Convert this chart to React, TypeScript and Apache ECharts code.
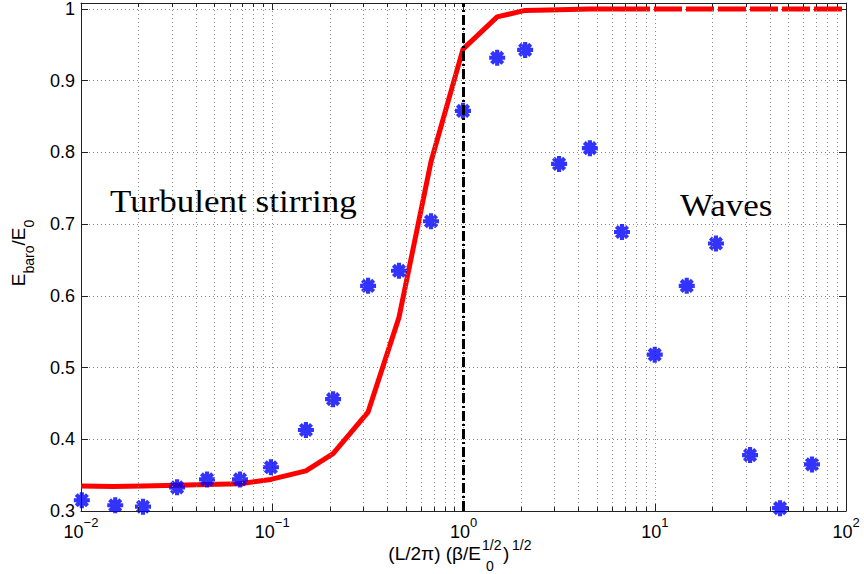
import React, { useEffect, useRef } from 'react';
import * as echarts from 'echarts';

// ---- data ----
const starX = [0.0101, 0.0151, 0.0211, 0.0318, 0.0456, 0.0678, 0.0984, 0.150, 0.208, 0.317, 0.460, 0.676, 0.994, 1.50, 2.10, 3.16, 4.58, 6.74, 10.0, 14.7, 20.9, 31.5, 45.2, 66.4];
const starY = [0.315, 0.308, 0.306, 0.333, 0.344, 0.344, 0.361, 0.413, 0.456, 0.614, 0.635, 0.704, 0.858, 0.932, 0.943, 0.784, 0.806, 0.689, 0.518, 0.614, 0.673, 0.378, 0.304, 0.365];

const lineX = [0.01, 0.0147, 0.0211, 0.0318, 0.0456, 0.0678, 0.0984, 0.150, 0.208, 0.317, 0.460, 0.676, 0.994, 1.50, 2.10, 3.16, 4.58, 6.74, 10.0, 14.7, 20.9, 31.5, 45.2, 66.4, 100];
const lineY = [0.335, 0.334, 0.335, 0.336, 0.337, 0.338, 0.344, 0.356, 0.380, 0.438, 0.570, 0.787, 0.944, 0.989, 0.998, 0.999, 1.0, 1.0, 1.0, 1.0, 1.0, 1.0, 1.0, 1.0, 1.0];
const dashedFrom = 17; // index where the curve becomes dashed

const xTickValues = [0.01, 0.1, 1, 10, 100];
const xTickExponents = ['\u22122', '\u22121', '0', '1', '2'];
const yTickLabels = ['0.3', '0.4', '0.5', '0.6', '0.7', '0.8', '0.9', '1'];
const decades = [0.01, 0.1, 1, 10];
const minorMultipliers = [2, 3, 4, 5, 6, 7, 8, 9];
const transitionX = 1;

const Y_MIN = 0.3;
const Y_MAX = 1.0083;

const STAR_PATH =
  'path://M37 0L63 0L63 100L37 100Z M0 37L100 37L100 63L0 63Z ' +
  'M24.2 5.8L94.2 75.8L75.8 94.2L5.8 24.2Z M75.8 5.8L94.2 24.2L24.2 94.2L5.8 75.8Z';

export default function App() {
  const ref = useRef<HTMLDivElement>(null);

  useEffect(() => {
    const chart = echarts.init(ref.current!, null, { renderer: 'svg' });

    const minorX: number[] = [];
    decades.forEach((d) => minorMultipliers.forEach((k) => minorX.push(+(d * k).toPrecision(4))));
    const tickLen = 4 / 720;

    const gridStyle = { color: '#8a8a8a', width: 1, type: [1, 3] as number[] };
    const font = 'Liberation Sans';

    const curve = lineX.map((x, i) => [x, lineY[i]]);
    const solidPart = curve.slice(0, dashedFrom + 1);
    const dashedPart = curve.slice(dashedFrom);

    const option: any = {
      animation: false,
      backgroundColor: '#ffffff',
      grid: { left: 81, right: 18, top: 1, bottom: 63, containLabel: false },
      xAxis: [
        {
          type: 'log',
          logBase: 10,
          min: 0.01,
          max: 100,
          position: 'bottom',
          axisLine: { show: true, lineStyle: { color: '#222', width: 1 } },
          axisTick: { show: true, inside: true, length: 7, lineStyle: { color: '#222' } },
          minorTick: { show: false },
          splitLine: { show: true, lineStyle: gridStyle },
          axisLabel: {
            margin: 5,
            color: '#000',
            formatter: (v: number) => {
              const i = xTickValues.findIndex((t) => Math.abs(Math.log10(t) - Math.log10(v)) < 1e-6);
              return i < 0 ? '' : '{b|10}{s|' + xTickExponents[i] + '}';
            },
            rich: {
              b: { fontSize: 18, fontFamily: font, color: '#000', lineHeight: 25, verticalAlign: 'bottom' },
              s: { fontSize: 13, fontFamily: font, color: '#000', lineHeight: 13, verticalAlign: 'top' },
            },
          },
        },
        {
          type: 'log',
          logBase: 10,
          min: 0.01,
          max: 100,
          position: 'top',
          axisLine: { show: true, lineStyle: { color: '#222', width: 1 } },
          axisTick: { show: true, inside: true, length: 7, lineStyle: { color: '#222' } },
          axisLabel: { show: false },
          splitLine: { show: false },
        },
      ],
      yAxis: [
        {
          type: 'value',
          min: Y_MIN,
          max: Y_MAX,
          interval: 0.1,
          position: 'left',
          axisLine: { show: true, lineStyle: { color: '#222', width: 1 } },
          axisTick: { show: true, inside: true, length: 7, lineStyle: { color: '#222' } },
          splitLine: { show: true, lineStyle: gridStyle },
          axisLabel: {
            margin: 6,
            fontSize: 18,
            lineHeight: 12,
            fontFamily: font,
            color: '#000',
            formatter: (v: number) => {
              const s = yTickLabels.find((l) => Math.abs(parseFloat(l) - v) < 1e-6);
              return s ?? '';
            },
          },
        },
        {
          type: 'value',
          min: Y_MIN,
          max: Y_MAX,
          interval: 0.1,
          position: 'right',
          axisLine: { show: true, lineStyle: { color: '#222', width: 1 } },
          axisTick: { show: true, inside: true, length: 7, lineStyle: { color: '#222' } },
          splitLine: { show: false },
          axisLabel: { show: false },
        },
      ],
      series: [
        {
          // minor grid + minor ticks
          type: 'line',
          z: 1,
          silent: true,
          data: [[0.01, Y_MIN]],
          symbol: 'none',
          lineStyle: { opacity: 0 },
          markLine: {
            silent: true,
            symbol: ['none', 'none'],
            label: { show: false },
            emphasis: { disabled: true },
            data: [
              ...minorX.map((v) => ({ xAxis: v, lineStyle: gridStyle })),
              ...minorX.map((v) => [
                { coord: [v, Y_MIN], lineStyle: { color: '#222', width: 1, type: 'solid' } },
                { coord: [v, Y_MIN + tickLen] },
              ]),
              ...minorX.map((v) => [
                { coord: [v, Y_MAX], lineStyle: { color: '#222', width: 1, type: 'solid' } },
                { coord: [v, Y_MAX - tickLen] },
              ]),
            ],
          },
        },
        {
          // transition marker
          type: 'line',
          z: 2,
          silent: true,
          data: [[0.01, Y_MIN]],
          symbol: 'none',
          lineStyle: { opacity: 0 },
          markLine: {
            silent: true,
            symbol: ['none', 'none'],
            label: { show: false },
            emphasis: { disabled: true },
            lineStyle: { color: '#000', width: 3, type: [10, 3, 2, 3] },
            data: [{ xAxis: transitionX }],
          },
        },
        {
          type: 'line',
          z: 3,
          data: solidPart,
          symbol: 'none',
          lineStyle: { color: '#ff0000', width: 5, join: 'round' },
        },
        {
          type: 'line',
          z: 3,
          data: dashedPart,
          symbol: 'none',
          lineStyle: { color: '#ff0000', width: 5, type: [28, 4] },
        },
        {
          type: 'scatter',
          z: 4,
          data: starX.map((x, i) => [x, starY[i]]),
          symbol: STAR_PATH,
          symbolSize: 16,
          itemStyle: { color: '#0000ff' },
        },
      ],
      graphic: [
        {
          type: 'text',
          x: 110,
          y: 202,
          scaleX: 1.13,
          silent: true,
          style: { text: 'Turbulent stirring', fontSize: 31, fontFamily: 'Liberation Serif', fill: '#000', align: 'left', verticalAlign: 'middle' },
        },
        {
          type: 'text',
          x: 680,
          y: 206,
          scaleX: 1.13,
          silent: true,
          style: { text: 'Waves', fontSize: 31, fontFamily: 'Liberation Serif', fill: '#000', align: 'left', verticalAlign: 'middle' },
        },
        {
          type: 'text',
          x: 9,
          y: 253,
          rotation: Math.PI / 2,
          silent: true,
          style: {
            text: '{m|E}{s|baro}{m|/E}{s|0}',
            align: 'center',
            verticalAlign: 'top',
            rich: {
              m: { fontSize: 19, fontFamily: font, fill: '#000', lineHeight: 22, verticalAlign: 'top' },
              s: { fontSize: 14, fontFamily: font, fill: '#000', lineHeight: 27, verticalAlign: 'bottom' },
            },
          },
        },
        { type: 'text', x: 481, y: 553, silent: true, style: { text: '(L/2\u03c0) (\u03b2/E', fontSize: 19, lineHeight: 14, fontFamily: font, fill: '#000', align: 'right', verticalAlign: 'middle' } },
        { type: 'text', x: 482, y: 545, silent: true, style: { text: '1/2', fontSize: 14, lineHeight: 12, fontFamily: font, fill: '#000', align: 'left', verticalAlign: 'middle' } },
        { type: 'text', x: 486, y: 566, silent: true, style: { text: '0', fontSize: 14, lineHeight: 12, fontFamily: font, fill: '#000', align: 'left', verticalAlign: 'middle' } },
        { type: 'text', x: 503, y: 553, silent: true, style: { text: ')', fontSize: 19, lineHeight: 14, fontFamily: font, fill: '#000', align: 'left', verticalAlign: 'middle' } },
        { type: 'text', x: 512, y: 545, silent: true, style: { text: '1/2', fontSize: 14, lineHeight: 12, fontFamily: font, fill: '#000', align: 'left', verticalAlign: 'middle' } },
      ],
    };

    chart.setOption(option);
    return () => chart.dispose();
  }, []);

  return (
    <div
      ref={ref}
      style={{ position: 'fixed', left: 0, top: 0, width: 864, height: 574, background: '#fff' }}
    />
  );
}
